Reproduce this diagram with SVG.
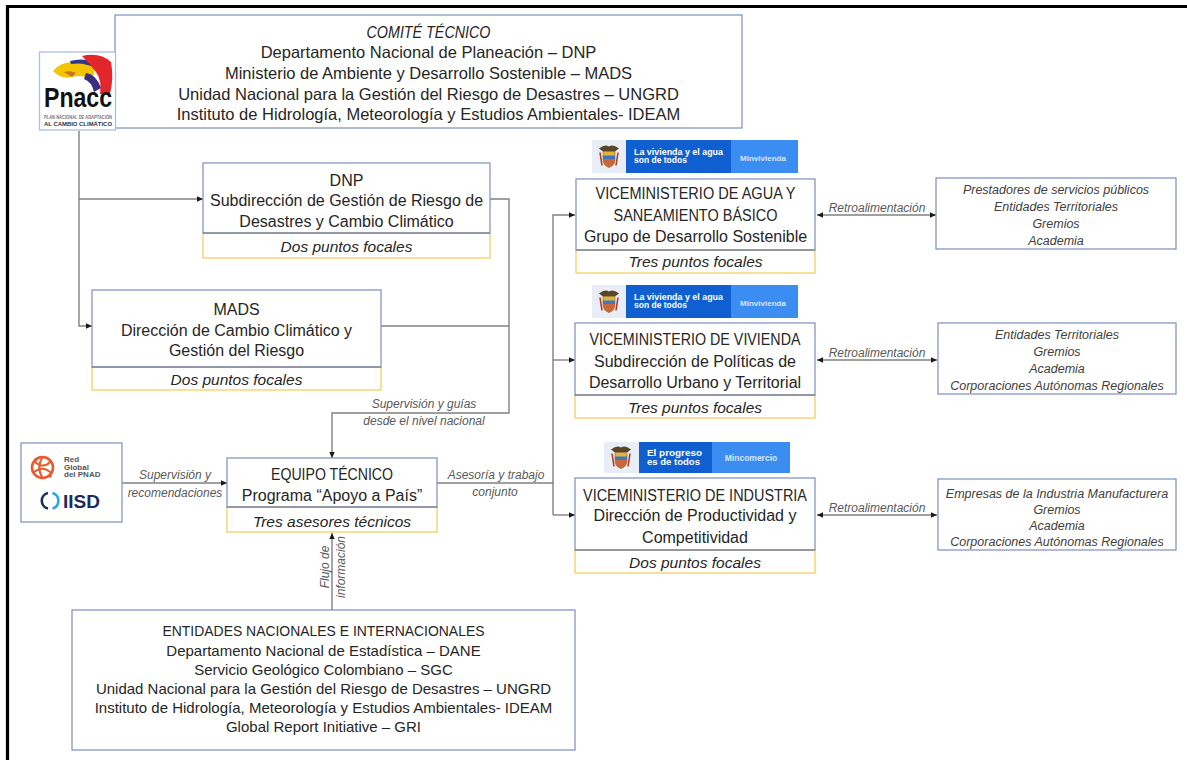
<svg xmlns="http://www.w3.org/2000/svg" xmlns:xlink="http://www.w3.org/1999/xlink" width="1187" height="760" viewBox="0 0 1187 760">
<style>
.box{fill:#fff;stroke:#8497C4;stroke-width:1.3}
.foc{fill:#fff;stroke:#F4CF62;stroke-width:1.3}
.sep{stroke:#7A7A7A;stroke-width:1.2}
.t{font-family:"Liberation Sans",Arial,sans-serif;fill:#262626;text-anchor:middle}
.m{font-size:16px}
.i{font-style:italic}
.f{font-size:15.5px;font-style:italic}
.lbl{font-family:"Liberation Sans",Arial,sans-serif;font-size:12px;font-style:italic;fill:#595959;text-anchor:middle}
.side{font-family:"Liberation Sans",Arial,sans-serif;font-size:12.5px;font-style:italic;fill:#404040;text-anchor:middle}
.con{fill:none;stroke:#808080;stroke-width:1.4}
.lw{font-family:"Liberation Sans",Arial,sans-serif;font-weight:bold;fill:#fff}
</style>
<defs>
<marker id="arr" viewBox="0 0 10 10" refX="10" refY="5" markerWidth="6" markerHeight="6" markerUnits="userSpaceOnUse" orient="auto-start-reverse">
<path d="M0,0.5 L10,5 L0,9.5 z" fill="#1a1a1a"/>
</marker>
<g id="escudo">
<path d="M-10,-8 Q-4,-13 0,-10 Q4,-13 10,-8 L6,-5 H-6 Z" fill="#5a4528"/>
<path d="M-6,-5 H6 V3 Q6,9 0,11 Q-6,9 -6,3 Z" fill="#E2B53A" stroke="#8a6a1c" stroke-width="0.6"/>
<rect x="-6" y="-1" width="12" height="3.5" fill="#3f76c0"/>
<path d="M-6,2.5 H6 V3 Q6,9 0,11 Q-6,9 -6,3 Z" fill="#C7683C"/>
<path d="M-9,-4 L-7,9 M9,-4 L7,9" stroke="#b33a2a" stroke-width="1.6"/>
</g>
</defs>
<rect width="1187" height="760" fill="#fff"/>
<path d="M7.5,760 V6.5 H1187" fill="none" stroke="#000" stroke-width="3.2"/>

<g id="connectors">
<path class="con" d="M79,131 V326 H92" marker-end="url(#arr)"/>
<path class="con" d="M79,199 H203" marker-end="url(#arr)"/>
<path class="con" d="M490,199 H509 V413 H332 V458" marker-end="url(#arr)"/>
<path class="con" d="M381,326 H509"/>
<path class="con" d="M122,483 H227" marker-end="url(#arr)"/>
<path class="con" d="M332,610 V533" marker-end="url(#arr)"/>
<path class="con" d="M437,483 H553"/>
<path class="con" d="M553,515 V215 H575" marker-end="url(#arr)"/>
<path class="con" d="M553,360 H575" marker-end="url(#arr)"/>
<path class="con" d="M553,515 H575" marker-end="url(#arr)"/>
<path class="con" d="M817,215 H936" marker-start="url(#arr)" marker-end="url(#arr)"/>
<path class="con" d="M817,360 H937" marker-start="url(#arr)" marker-end="url(#arr)"/>
<path class="con" d="M817,515 H937" marker-start="url(#arr)" marker-end="url(#arr)"/>
<text class="lbl" x="424" y="408">Supervisión y guías</text>
<text class="lbl" x="424" y="425">desde el nivel nacional</text>
<text class="lbl" x="175" y="479">Supervisión y</text>
<text class="lbl" x="175" y="497">recomendaciones</text>
<text class="lbl" x="496" y="479">Asesoría y trabajo</text>
<text class="lbl" x="495" y="496">conjunto</text>
<text class="lbl" transform="translate(329,567) rotate(-90)">Flujo de</text>
<text class="lbl" transform="translate(345,567) rotate(-90)">información</text>
<text class="lbl" x="877" y="212">Retroalimentación</text>
<text class="lbl" x="877" y="357">Retroalimentación</text>
<text class="lbl" x="877" y="512">Retroalimentación</text>
</g>

<g id="comite">
<rect class="box" x="115" y="15" width="627" height="113"/>
<text class="t i" font-size="16.5" x="428.5" y="38" textLength="124" lengthAdjust="spacingAndGlyphs">COMITÉ TÉCNICO</text>
<text class="t" font-size="16.5" x="428.5" y="58">Departamento Nacional de Planeación – DNP</text>
<text class="t" font-size="16.5" x="428.5" y="79">Ministerio de Ambiente y Desarrollo Sostenible – MADS</text>
<text class="t" font-size="16.5" x="428.5" y="99.5">Unidad Nacional para la Gestión del Riesgo de Desastres – UNGRD</text>
<text class="t" font-size="16.5" x="428.5" y="120">Instituto de Hidrología, Meteorología y Estudios Ambientales- IDEAM</text>
</g>

<g id="pnacc-logo">
<rect x="39.5" y="52" width="76" height="78" fill="#fff" stroke="#A9BEE2" stroke-width="1.3"/>
<path d="M53,71 Q60,62 74,62 Q88,61 96,66 L92,80 Q82,74 72,77 Q62,80 53,71 Z" fill="#F5C400"/>
<path d="M70,61 Q84,57 95,63 L93,67 Q83,62 71,64 Z" fill="#2B3A8F"/>
<path d="M82,56 Q100,52 111,62 Q114,78 110,94 L100,94 Q102,80 96,72 Q90,64 82,56 Z" fill="#E3262B"/>
<path d="M86,73 Q96,74 101,88 L94,92 Q92,82 84,79 Z" fill="#3B2E7E"/>
<path d="M64,72 Q70,70 76,73 L72,77 Z" fill="#C8742A"/>
<text x="78" y="107" font-family="'Liberation Sans',Arial,sans-serif" font-weight="bold" font-size="28" fill="#111" text-anchor="middle" textLength="68" lengthAdjust="spacingAndGlyphs">Pnacc</text>
<text x="78" y="118.5" font-family="'Liberation Sans',Arial,sans-serif" font-weight="bold" font-size="4.6" fill="#777" text-anchor="middle" textLength="68" lengthAdjust="spacingAndGlyphs">PLAN NACIONAL DE ADAPTACIÓN</text>
<text x="78" y="125.5" font-family="'Liberation Sans',Arial,sans-serif" font-weight="bold" font-size="5.5" fill="#333" text-anchor="middle" textLength="68" lengthAdjust="spacingAndGlyphs">AL CAMBIO CLIMÁTICO</text>
</g>

<g id="dnp">
<rect class="foc" x="203" y="233" width="287" height="25"/>
<rect class="box" x="203" y="163" width="287" height="70"/>
<line class="sep" x1="203" y1="233" x2="490" y2="233"/>
<text class="t m" x="346.5" y="185.5">DNP</text>
<text class="t m" x="346.5" y="206">Subdirección de Gestión de Riesgo de</text>
<text class="t m" x="346.5" y="227">Desastres y Cambio Climático</text>
<text class="t f" x="346.5" y="252">Dos puntos focales</text>
</g>

<g id="mads">
<rect class="foc" x="92" y="367" width="289" height="23"/>
<rect class="box" x="92" y="290" width="289" height="77"/>
<line class="sep" x1="92" y1="367" x2="381" y2="367"/>
<text class="t m" x="236.5" y="314.5">MADS</text>
<text class="t m" x="236.5" y="335.5">Dirección de Cambio Climático y</text>
<text class="t m" x="236.5" y="356">Gestión del Riesgo</text>
<text class="t f" x="236.5" y="384.5">Dos puntos focales</text>
</g>

<g id="redglobal-iisd">
<rect class="box" x="21" y="443" width="101" height="79"/>
<circle cx="42.5" cy="467.5" r="10.5" fill="none" stroke="#E9592C" stroke-width="2.6"/>
<path d="M34,461 Q43,470 51,461 M33,473 Q43,464 52,474 M42.5,457 Q36,467.5 42.5,478" fill="none" stroke="#E9592C" stroke-width="2"/>
<circle cx="36" cy="459.5" r="1.8" fill="#E9592C"/>
<circle cx="50" cy="476" r="1.8" fill="#E9592C"/>
<text x="64" y="462" font-family="'Liberation Sans',Arial,sans-serif" font-weight="bold" font-size="8" fill="#555">Red</text>
<text x="64" y="469.5" font-family="'Liberation Sans',Arial,sans-serif" font-weight="bold" font-size="8" fill="#555">Global</text>
<text x="64" y="477" font-family="'Liberation Sans',Arial,sans-serif" font-weight="bold" font-size="8" fill="#555">del PNAD</text>
<path d="M48,492.9 A8,8 0 0,0 48,508.5" fill="none" stroke="#1F2B5B" stroke-width="2.6"/>
<path d="M52.5,493 A8,8 0 0,1 52.5,508.4" fill="none" stroke="#27A9E1" stroke-width="2.6"/>
<text x="63" y="507.5" font-family="'Liberation Sans',Arial,sans-serif" font-weight="bold" font-size="18" fill="#1F2B5B" textLength="37" lengthAdjust="spacingAndGlyphs">IISD</text>
</g>

<g id="equipo">
<rect class="foc" x="227" y="507" width="210" height="25"/>
<rect class="box" x="227" y="458" width="210" height="49"/>
<line class="sep" x1="227" y1="507" x2="437" y2="507"/>
<text class="t m" x="332" y="480" textLength="122" lengthAdjust="spacingAndGlyphs">EQUIPO TÉCNICO</text>
<text class="t m" x="332" y="500.5">Programa “Apoyo a País”</text>
<text class="t f" x="332" y="526.5">Tres asesores técnicos</text>
</g>

<g id="entidades">
<rect class="box" x="72" y="610" width="503" height="140"/>
<text class="t" font-size="15" x="323.5" y="636" textLength="322" lengthAdjust="spacingAndGlyphs">ENTIDADES NACIONALES E INTERNACIONALES</text>
<text class="t" font-size="15" x="323.5" y="655.5">Departamento Nacional de Estadística – DANE</text>
<text class="t" font-size="15" x="323.5" y="674.5">Servicio Geológico Colombiano – SGC</text>
<text class="t" font-size="15" x="323.5" y="693.5">Unidad Nacional para la Gestión del Riesgo de Desastres – UNGRD</text>
<text class="t" font-size="15" x="323.5" y="712.5">Instituto de Hidrología, Meteorología y Estudios Ambientales- IDEAM</text>
<text class="t" font-size="15" x="323.5" y="732">Global Report Initiative – GRI</text>
</g>

<g id="logo-minvivienda-1">
<rect x="592" y="140" width="34" height="33" fill="#E9EEF6"/>
<rect x="626" y="140" width="105" height="33" fill="#0F5FD1"/>
<rect x="731" y="140" width="67" height="33" fill="#3B8DF2"/>
<use xlink:href="#escudo" x="609" y="156.5"/>
<text class="lw" x="634" y="155" font-size="8.5" textLength="89" lengthAdjust="spacingAndGlyphs">La vivienda y el agua</text>
<text class="lw" x="634" y="163" font-size="8.5">son de todos</text>
<text class="lw" x="763" y="160.5" font-size="8" text-anchor="middle" fill-opacity="0.8">Minvivienda</text>
</g>

<g id="viceministerio-agua">
<rect class="foc" x="576" y="250" width="239" height="23"/>
<rect class="box" x="576" y="179" width="239" height="71"/>
<line class="sep" x1="576" y1="250" x2="815" y2="250"/>
<text class="t m" x="695.5" y="199" textLength="200" lengthAdjust="spacingAndGlyphs">VICEMINISTERIO DE AGUA Y</text>
<text class="t m" x="695.5" y="220.5" textLength="164" lengthAdjust="spacingAndGlyphs">SANEAMIENTO BÁSICO</text>
<text class="t m" x="695.5" y="241.5">Grupo de Desarrollo Sostenible</text>
<text class="t f" x="695.5" y="267">Tres puntos focales</text>
</g>

<g id="logo-minvivienda-2">
<rect x="592" y="285" width="34" height="33" fill="#E9EEF6"/>
<rect x="626" y="285" width="105" height="33" fill="#0F5FD1"/>
<rect x="731" y="285" width="67" height="33" fill="#3B8DF2"/>
<use xlink:href="#escudo" x="609" y="301.5"/>
<text class="lw" x="634" y="300" font-size="8.5" textLength="89" lengthAdjust="spacingAndGlyphs">La vivienda y el agua</text>
<text class="lw" x="634" y="308" font-size="8.5">son de todos</text>
<text class="lw" x="763" y="305.5" font-size="8" text-anchor="middle" fill-opacity="0.8">Minvivienda</text>
</g>

<g id="viceministerio-vivienda">
<rect class="foc" x="575" y="395" width="240" height="23"/>
<rect class="box" x="575" y="323" width="240" height="72"/>
<line class="sep" x1="575" y1="395" x2="815" y2="395"/>
<text class="t m" x="695" y="344.5" textLength="211" lengthAdjust="spacingAndGlyphs">VICEMINISTERIO DE VIVIENDA</text>
<text class="t m" x="695" y="366.5">Subdirección de Políticas de</text>
<text class="t m" x="695" y="387.5">Desarrollo Urbano y Territorial</text>
<text class="t f" x="695" y="413">Tres puntos focales</text>
</g>

<g id="logo-mincomercio">
<rect x="604" y="442" width="35" height="31" fill="#E9EEF6"/>
<rect x="639" y="442" width="73" height="31" fill="#0F5FD1"/>
<rect x="712" y="442" width="78" height="31" fill="#3B8DF2"/>
<use xlink:href="#escudo" x="621" y="457.5"/>
<text class="lw" x="647" y="456" font-size="9" textLength="55" lengthAdjust="spacingAndGlyphs">El progreso</text>
<text class="lw" x="647" y="464.5" font-size="9" textLength="53" lengthAdjust="spacingAndGlyphs">es de todos</text>
<text class="lw" x="751" y="461" font-size="8.5" text-anchor="middle" fill-opacity="0.8">Mincomercio</text>
</g>

<g id="viceministerio-industria">
<rect class="foc" x="575" y="550" width="240" height="23"/>
<rect class="box" x="575" y="478" width="240" height="72"/>
<line class="sep" x1="575" y1="550" x2="815" y2="550"/>
<text class="t m" x="695" y="500.5" textLength="224" lengthAdjust="spacingAndGlyphs">VICEMINISTERIO DE INDUSTRIA</text>
<text class="t m" x="695" y="521">Dirección de Productividad y</text>
<text class="t m" x="695" y="542.5">Competitividad</text>
<text class="t f" x="695" y="568">Dos puntos focales</text>
</g>

<g id="actores-agua">
<rect class="box" x="936" y="178" width="240" height="71"/>
<text class="side" x="1056" y="193.5">Prestadores de servicios públicos</text>
<text class="side" x="1056" y="210.5">Entidades Territoriales</text>
<text class="side" x="1056" y="227.5">Gremios</text>
<text class="side" x="1056" y="244.5">Academia</text>
</g>

<g id="actores-vivienda">
<rect class="box" x="938" y="323" width="238" height="71"/>
<text class="side" x="1057" y="339">Entidades Territoriales</text>
<text class="side" x="1057" y="356">Gremios</text>
<text class="side" x="1057" y="373">Academia</text>
<text class="side" x="1057" y="390">Corporaciones Autónomas Regionales</text>
</g>

<g id="actores-industria">
<rect class="box" x="938" y="479" width="238" height="71"/>
<text class="side" x="1057" y="498">Empresas de la Industria Manufacturera</text>
<text class="side" x="1057" y="514">Gremios</text>
<text class="side" x="1057" y="530">Academia</text>
<text class="side" x="1057" y="546">Corporaciones Autónomas Regionales</text>
</g>
</svg>
